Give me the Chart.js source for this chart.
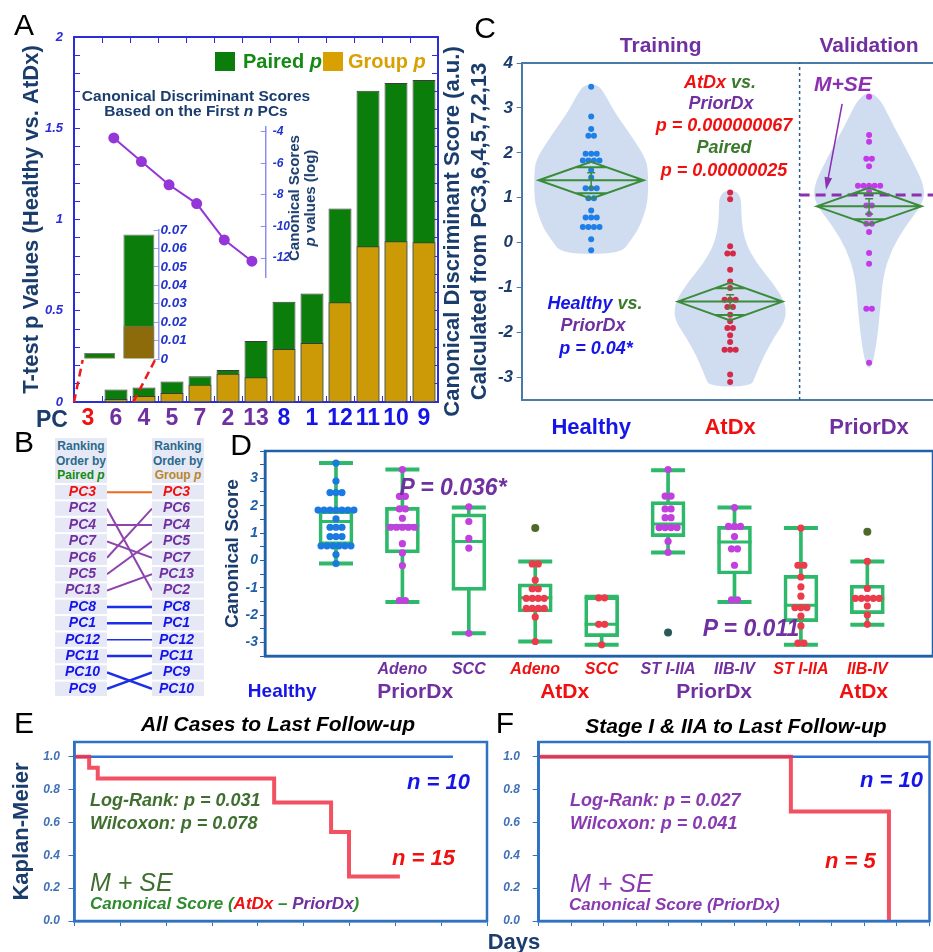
<!DOCTYPE html>
<html lang="en">
<head>
<meta charset="UTF-8">
<title>Canonical discriminant scores of PCs</title>
<script src="https://cdn.jsdelivr.net/npm/chart.js"></script>
<style>
  body { margin: 0; background: #fff; }
  #page { position: relative; width: 933px; height: 952px; overflow: hidden; font-family: "Liberation Sans", Arial, sans-serif; }
  canvas { position: absolute; }
  .c { position: absolute; transform: translate(-50%, -50%); white-space: nowrap; font-weight: bold; line-height: 1; }
  .l { position: absolute; transform: translateY(-50%); white-space: nowrap; font-weight: bold; line-height: 1; }
  .it { font-style: italic; }
  .letter { font-weight: normal; font-size: 30px; color: #000; }
  .hdr { position: absolute; width: 52px; height: 45px; background: #e6e9f5; text-align: center; font: bold 12px/14.5px "Liberation Sans", Arial, sans-serif; padding-top: 1px; box-sizing: border-box; }
</style>
</head>
<body>
<div id="page">
  <canvas id="chartA" width="445" height="440" style="left:0;top:0"></canvas>
  <canvas id="chartAInsetBar" width="115" height="161" style="left:79.5px;top:214px"></canvas>
  <canvas id="chartAInsetLine" width="220" height="190" style="left:100px;top:107px"></canvas>
  <canvas id="chartB" width="154" height="245" style="left:50px;top:467.5px"></canvas>
  <canvas id="chartC" width="493" height="440" style="left:440px;top:0"></canvas>
  <canvas id="chartD" width="713" height="270" style="left:220px;top:440px"></canvas>
  <canvas id="chartE" width="495" height="226" style="left:0;top:726px"></canvas>
  <canvas id="chartF" width="443" height="230" style="left:490px;top:722px"></canvas>

  <!-- panel letters -->
  <div class="c letter" style="left:24px;top:25px">A</div>
  <div class="c letter" style="left:24px;top:442px">B</div>
  <div class="c letter" style="left:485px;top:28px">C</div>
  <div class="c letter" style="left:241px;top:445px">D</div>
  <div class="c letter" style="left:24px;top:723px">E</div>
  <div class="c letter" style="left:505px;top:723px">F</div>

  <!-- A -->
  <div style="position:absolute;left:215px;top:52px;width:20px;height:19px;background:#0b7d0b"></div>
  <div class="l" style="left:243px;top:61px;font-size:20px;color:#138a13">Paired <span class="it">p</span></div>
  <div style="position:absolute;left:323px;top:52px;width:20px;height:19px;background:#d8a000"></div>
  <div class="l" style="left:348px;top:61px;font-size:20px;color:#d8a000">Group <span class="it">p</span></div>
  <div class="c" style="left:196px;top:96px;font-size:15.5px;color:#1b3d6d">Canonical Discriminant Scores</div>
  <div class="c" style="left:196px;top:111px;font-size:15.5px;color:#1b3d6d">Based on the First <span class="it">n</span> PCs</div>
  <div class="c" style="left:302px;top:198px;transform:translate(-50%,-50%) rotate(-90deg);font-size:15px;line-height:16px;text-align:center;color:#1b3d6d">Canonical Scores<br><span class="it">p</span> values (log)</div>
  <div class="c" style="left:52px;top:419px;font-size:23px;color:#1b3d6d">PC</div>

  <!-- B -->
  <div class="hdr" style="left:55px;top:438px"><span style="color:#2b6a8c">Ranking<br>Order by</span><br><span style="color:#138a13">Paired <span class="it">p</span></span></div>
  <div class="hdr" style="left:152px;top:438px"><span style="color:#2b6a8c">Ranking<br>Order by</span><br><span style="color:#b8862a">Group <span class="it">p</span></span></div>

  <!-- C -->
  <div class="c it" style="left:720px;top:82px;font-size:18px"><span style="color:#f01010">AtDx</span> <span style="color:#3a7a2a">vs.</span></div>
  <div class="c it" style="left:721px;top:103px;font-size:18px;color:#7030a0">PriorDx</div>
  <div class="c it" style="left:724px;top:125px;font-size:18px;color:#f01010">p = 0.000000067</div>
  <div class="c it" style="left:724px;top:147px;font-size:18px;color:#3a7a2a">Paired</div>
  <div class="c it" style="left:724px;top:170px;font-size:18px;color:#f01010">p = 0.00000025</div>
  <div class="c it" style="left:595px;top:303px;font-size:18px"><span style="color:#1515e8">Healthy</span> <span style="color:#3a7a2a">vs.</span></div>
  <div class="c it" style="left:593px;top:325px;font-size:18px;color:#7030a0">PriorDx</div>
  <div class="c it" style="left:596px;top:348px;font-size:18px;color:#1515e8">p = 0.04*</div>
  <div class="c it" style="left:843px;top:83px;font-size:21px;color:#8a30b0">M+SE</div>

  <!-- D -->
  <div class="c it" style="left:453px;top:487px;font-size:23px;color:#7030a0">P = 0.036*</div>
  <div class="c it" style="left:751px;top:628px;font-size:23px;color:#7030a0">P = 0.011</div>

  <!-- E -->
  <div class="c it" style="left:278px;top:723px;font-size:21px;color:#000">All Cases to Last Follow-up</div>
  <div class="l it" style="left:407px;top:782px;font-size:22px;color:#1515e8">n = 10</div>
  <div class="l it" style="left:90px;top:800px;font-size:18px;color:#3f6f2f">Log-Rank: p = 0.031</div>
  <div class="l it" style="left:90px;top:823px;font-size:18px;color:#3f6f2f">Wilcoxon: p = 0.078</div>
  <div class="l it" style="left:392px;top:858px;font-size:22px;color:#f01010">n = 15</div>
  <div class="l it" style="left:90px;top:882px;font-size:25px;font-weight:normal;color:#3f6f2f">M + SE</div>
  <div class="l it" style="left:90px;top:903px;font-size:17px;color:#2e8b2e">Canonical Score (<span style="color:#f01010">AtDx</span> – <span style="color:#7030a0">PriorDx</span>)</div>

  <!-- F -->
  <div class="c it" style="left:736px;top:725px;font-size:21px;color:#000">Stage I &amp; IIA to Last Follow-up</div>
  <div class="l it" style="left:860px;top:780px;font-size:22px;color:#1515e8">n = 10</div>
  <div class="l it" style="left:570px;top:800px;font-size:18px;color:#8a3ab0">Log-Rank: p = 0.027</div>
  <div class="l it" style="left:570px;top:823px;font-size:18px;color:#8a3ab0">Wilcoxon: p = 0.041</div>
  <div class="l it" style="left:825px;top:861px;font-size:22px;color:#f01010">n = 5</div>
  <div class="l it" style="left:570px;top:883px;font-size:25px;font-weight:normal;color:#8a3ab0">M + SE</div>
  <div class="l it" style="left:569px;top:904px;font-size:17px;color:#8a3ab0">Canonical Score (PriorDx)</div>
  <div class="c" style="left:514px;top:942px;font-size:22px;color:#1b3d6d">Days</div>
</div>

<script>
  // ---------- Panel A: t-test p values of each PC ----------
  const pcOrder = ['3', '6', '4', '5', '7', '2', '13', '8', '1', '12', '11', '10', '9'];
  const pairedP = [null, 0.068, 0.080, 0.113, 0.141, 0.175, 0.334, 0.549, 0.595, 1.06, 1.706, 1.748, 1.765];
  const groupP = [null, 0.016, 0.033, 0.049, 0.095, 0.155, 0.135, 0.290, 0.323, 0.546, 0.854, 0.881, 0.876];
  const redPCs = ['3'];
  const purplePCs = ['6', '4', '5', '7', '2', '13'];

  // magnified PC3 bar
  const insetLabels = ['', 'PC3'];
  const insetPaired = [0.0033, 0.0675];
  const insetGroup = [0.0010, 0.0180];

  // canonical score p values (log) using the first n PCs
  const firstNPCs = [2, 3, 4, 5, 6, 7];
  const logPValues = [-4.39, -5.89, -7.36, -8.55, -10.85, -12.2];

  // ---------- Panel B: ranking orders ----------
  const rankByPaired = ['PC3', 'PC2', 'PC4', 'PC7', 'PC6', 'PC5', 'PC13', 'PC8', 'PC1', 'PC12', 'PC11', 'PC10', 'PC9'];
  const rankByGroup = ['PC3', 'PC6', 'PC4', 'PC5', 'PC7', 'PC13', 'PC2', 'PC8', 'PC1', 'PC12', 'PC11', 'PC9', 'PC10'];

  // ---------- Panel C: canonical scores ----------
  const cGroups = ['Healthy', 'AtDx', 'PriorDx'];
  const cCohorts = ['Training', 'Validation'];
  const cCohortTicks = [0.5, 2];
  const cHealthy = [3.47, 2.81, 2.53, 2.38, 2.38, 1.98, 1.98, 1.98, 1.83, 1.83, 1.83, 1.83, 1.62, 1.45, 1.21, 1.21, 1.21,
    0.99, 0.99, 0.72, 0.56, 0.56, 0.56, 0.35, 0.35, 0.35, 0.35, 0.08, -0.17];
  const cAtDx = [1.12, 0.97, -0.08, -0.24, -0.24, -0.6, -0.86, -1.01, -1.27, -1.27, -1.27, -1.43, -1.43, -1.6, -1.75,
    -1.9, -1.9, -2.06, -2.21, -2.38, -2.38, -2.38, -2.93, -3.1];
  const cPriorDx = [3.25, 2.4, 2.25, 1.87, 1.87, 1.7, 1.27, 1.27, 1.27, 1.27, 1.27, 1.13, 0.83, 0.83, 0.64, 0.42, 0.42,
    0.24, -0.23, -0.47, -1.47, -1.47, -2.67];
  const cMeans = [1.39, -1.31, 0.81];
  const cCI = [0.41, 0.42, 0.41];
  const cSE = [0.17, 0.15, 0.17];
  const priorDxMSE = 1.06;
  // violin outlines: score levels and half widths (in group units)
  const healthyDensityY = [3.52, 3.3, 2.9, 2.37, 1.85, 1.48, 1.11, 0.81, 0.36, 0.07, -0.25];
  const healthyDensityW = [0.05, 0.1, 0.17, 0.29, 0.40, 0.41, 0.41, 0.40, 0.35, 0.29, 0.21];
  const atdxDensityY = [1.16, 0.5, 0.0, -0.46, -0.9, -1.35, -1.72, -2.09, -2.53, -2.98, -3.2];
  const atdxDensityW = [0.08, 0.08, 0.11, 0.19, 0.31, 0.40, 0.40, 0.32, 0.24, 0.18, 0.15];
  const priorDensityY = [3.32, 2.58, 1.84, 1.25, 0.88, 0.36, -0.16, -0.75, -1.49, -2.23, -2.78];
  const priorDensityW = [0.06, 0.18, 0.31, 0.40, 0.39, 0.26, 0.16, 0.10, 0.08, 0.055, 0.02];

  // ---------- Panel D: box plots by subtype / stage ----------
  const dSubtypes = ['', 'Adeno', 'SCC', 'Adeno', 'SCC', 'ST I-IIA', 'IIB-IV', 'ST I-IIA', 'IIB-IV'];
  const dGroupLabels = ['Healthy', 'PriorDx', 'AtDx', 'PriorDx', 'AtDx'];
  const dGroupTicks = [-0.28, 1.5, 3.5, 5.5, 7.5];
  const dHealthy = [3.56, 2.9, 2.48, 2.48, 2.48, 1.84, 1.84, 1.84, 1.84, 1.84, 1.84, 1.84, 1.52, 1.21, 1.21, 1.21,
    0.87, 0.87, 0.87, 0.53, 0.53, 0.53, 0.53, 0.53, 0.53, 0.21, -0.12];
  const dPriorAdeno = [3.32, 2.34, 2.34, 1.88, 1.88, 1.54, 1.21, 1.21, 1.21, 1.21, 1.21, 0.61, 0.27, -0.19, -1.47, -1.47];
  const dPriorSCC = [1.96, 1.42, 0.8, 0.45, -2.67];
  const dAtdxAdeno = [-0.13, -0.13, -0.72, -1.04, -1.04, -1.39, -1.39, -1.39, -1.39, -1.76, -1.76, -1.76, -1.76, -2.07, -2.97];
  const dAtdxSCC = [-1.37, -1.37, -2.34, -2.34, -3.09];
  const dPriorEarly = [3.32, 2.35, 2.35, 1.88, 1.88, 1.56, 1.56, 1.2, 1.2, 1.2, 1.2, 0.69, 0.29];
  const dPriorLate = [1.93, 1.24, 1.24, 1.24, 0.87, 0.42, 0.42, -0.18, -1.45, -1.45];
  const dAtdxEarly = [1.18, -0.18, -0.18, -0.61, -0.97, -1.31, -1.73, -1.73, -1.73, -2.04, -2.4, -3.03, -3.03];
  const dAtdxLate = [-0.04, -1.03, -1.39, -1.39, -1.39, -1.39, -1.39, -1.67, -2.0, -2.34];
  const dOutlierX = [3, 5, 8];
  const dOutlierY = [1.18, -2.64, 1.05];
  const dLow = [-0.12, -1.52, -2.67, -2.97, -3.09, 0.29, -1.52, -3.09, -2.36];
  const dQ1 = [0.57, 0.27, -1.10, -1.89, -2.79, 0.87, -0.50, -2.24, -1.95];
  const dMedian = [1.42, 1.27, 0.69, -1.37, -2.34, 1.33, 0.67, -1.64, -1.39];
  const dQ3 = [1.82, 1.94, 1.70, -0.86, -1.33, 2.15, 1.24, -0.55, -0.91];
  const dHigh = [3.56, 3.32, 1.93, -0.04, -1.33, 3.30, 1.93, 1.18, -0.04];

  // ---------- Panels E, F: Kaplan-Meier ----------
  const kmAllDays = [0, 80, 127, 1091, 1402, 1500, 1778];
  const kmAllSurv = [1, 0.933, 0.867, 0.722, 0.542, 0.271, 0.271];
  const kmAllRefDays = [0, 2068];
  const kmAllRefSurv = [1, 1];
  const kmEarlyDays = [0, 1908, 2650];
  const kmEarlySurv = [1, 0.667, 0];
  const kmEarlyRefDays = [0, 2957];
  const kmEarlyRefSurv = [1, 1];

  // ---------- colours ----------
  const NAVY = '#1b3d6d';
  const RED = '#f01010';
  const PURPLE = '#7030a0';
  const BLUE = '#1515e8';
  const GREEN = '#0b7d0b';
  const GOLD = '#cc9a06';
  const AXIS_A = '#2c2cd8';
  const BOX_GREEN = '#2db86a';
  const FRAME_D = '#2060a8';
  const FRAME_KM = '#2f72c4';

  Chart.defaults.font.family = '"Liberation Sans", Arial, sans-serif';
  Chart.defaults.animation = false;
  Chart.defaults.layout.autoPadding = false;
  Chart.defaults.plugins.legend.display = false;
  Chart.defaults.plugins.tooltip.enabled = false;

  function pcColor(pc) {
    const n = String(pc).replace('PC', '');
    if (redPCs.includes(n)) return RED;
    return purplePCs.includes(n) ? PURPLE : BLUE;
  }

  // spread equal values side by side
  function swarm(values, center, step) {
    const counts = {};
    const seen = {};
    values.forEach(v => { counts[v] = (counts[v] || 0) + 1; });
    return values.map(v => {
      seen[v] = (seen[v] || 0) + 1;
      return { x: center + (seen[v] - 1 - (counts[v] - 1) / 2) * step, y: v };
    });
  }

  const framePlugin = {
    id: 'frame',
    afterDatasetsDraw(chart, args, opts) {
      const { ctx, chartArea: a } = chart;
      ctx.save();
      ctx.strokeStyle = opts.color;
      ctx.lineWidth = opts.width;
      ctx.strokeRect(a.left, a.top, a.right - a.left, a.bottom - a.top);
      ctx.restore();
    }
  };

  // dashed guides from the PC3 slot up to the magnified bar
  const zoomGuides = {
    id: 'zoomGuides',
    afterDatasetsDraw(chart, args, opts) {
      const { ctx, scales: { x, y } } = chart;
      const slot = (x.right - x.left) / x.ticks.length;
      ctx.save();
      ctx.strokeStyle = '#f01818';
      ctx.lineWidth = 2.5;
      ctx.setLineDash([8, 5]);
      opts.lines.forEach(([s0, v0, s1, v1]) => {
        ctx.beginPath();
        ctx.moveTo(x.left + s0 * slot, y.getPixelForValue(v0));
        ctx.lineTo(x.left + s1 * slot, y.getPixelForValue(v1));
        ctx.stroke();
      });
      ctx.restore();
    }
  };

  // ---------- A: main bars ----------
  new Chart(document.getElementById('chartA'), {
    type: 'bar',
    data: {
      labels: pcOrder,
      datasets: [
        { label: 'Paired p', data: pairedP, backgroundColor: GREEN, borderColor: '#3b3b3b', borderWidth: 1,
          grouped: false, order: 2, barPercentage: 0.82, categoryPercentage: 1 },
        { label: 'Group p', data: groupP, backgroundColor: GOLD, borderColor: '#3b3b3b', borderWidth: 1,
          grouped: false, order: 1, barPercentage: 0.82, categoryPercentage: 1 }
      ]
    },
    options: {
      responsive: false,
      layout: { padding: { top: 37 } },
      scales: {
        x: {
          grid: { offset: true, drawOnChartArea: false, tickLength: -6, color: AXIS_A },
          border: { color: AXIS_A, width: 2 },
          ticks: { autoSkip: false, maxRotation: 0, padding: 9, color: ctx => pcColor(pcOrder[ctx.index]),
            font: { size: 23, weight: 'bold' } },
          afterFit: s => { s.height = 38; }
        },
        xTop: {
          type: 'category', position: 'top', offset: true,
          grid: { offset: true, drawOnChartArea: false, tickLength: -6, color: AXIS_A },
          border: { color: AXIS_A, width: 2 },
          ticks: { display: false },
          afterFit: s => { s.height = 0; }
        },
        y: {
          min: 0, max: 2,
          grid: { drawOnChartArea: false, tickLength: -6, color: AXIS_A },
          border: { color: AXIS_A, width: 2 },
          ticks: { stepSize: 0.1, autoSkip: false, padding: 17, color: AXIS_A,
            font: { size: 13, weight: 'bold', style: 'italic' },
            callback: v => (Math.round(v * 10) % 5 === 0 ? String(Math.round(v * 10) / 10) : '') },
          title: { display: true, text: 'T-test p Values (Healthy vs. AtDx)', color: NAVY,
            font: { size: 22, weight: 'bold' }, padding: { top: 19, bottom: 0 } },
          afterFit: s => { s.width = 74; }
        },
        yR: {
          position: 'right', min: 0, max: 2,
          grid: { drawOnChartArea: false, tickLength: -6, color: AXIS_A },
          border: { color: AXIS_A, width: 2 },
          ticks: { stepSize: 0.1, display: false },
          afterFit: s => { s.width = 7; }
        }
      },
      plugins: { zoomGuides: { lines: [[0, 0, 0.31, 0.23], [2.12, 0, 2.95, 0.247]] } }
    },
    plugins: [zoomGuides]
  });

  // ---------- A: magnified PC3 ----------
  new Chart(document.getElementById('chartAInsetBar'), {
    type: 'bar',
    data: {
      labels: insetLabels,
      datasets: [
        { data: insetPaired, backgroundColor: GREEN, borderColor: '#7a7a7a', borderWidth: 1, grouped: false,
          order: 2, barPercentage: 0.79, categoryPercentage: 1 },
        { data: insetGroup, backgroundColor: '#8d6b0b', borderColor: '#7a7a7a', borderWidth: 1, grouped: false,
          order: 1, barPercentage: 0.79, categoryPercentage: 1 }
      ]
    },
    options: {
      responsive: false,
      layout: { padding: { top: 16, bottom: 16 } },
      scales: {
        x: { display: false },
        y: {
          position: 'right', min: 0, max: 0.07,
          grid: { drawOnChartArea: false, tickLength: -5, color: '#9aa0ea' },
          border: { color: '#9aa0ea', width: 1.5 },
          ticks: { stepSize: 0.01, autoSkip: false, padding: 7, color: '#2233cc',
            font: { size: 13.5, weight: 'bold', style: 'italic' },
            callback: v => (v === 0 ? '0' : v.toFixed(2)) },
          afterFit: s => { s.width = 36.5; }
        }
      }
    }
  });

  // ---------- A: p values of canonical scores ----------
  new Chart(document.getElementById('chartAInsetLine'), {
    type: 'line',
    data: {
      datasets: [{
        data: firstNPCs.map((n, i) => ({ x: n, y: logPValues[i] })),
        borderColor: '#9436d8', backgroundColor: '#9436d8', borderWidth: 2, pointRadius: 4.5
      }]
    },
    options: {
      responsive: false,
      layout: { padding: { top: 20, bottom: 20 } },
      scales: {
        x: { type: 'linear', display: false, min: 1.5, max: 7.5 },
        y: {
          position: 'right', min: -13.2, max: -3.7,
          grid: { drawOnChartArea: false, tickLength: -5, color: '#8f8fe8' },
          border: { color: '#8f8fe8', width: 1.5 },
          ticks: { stepSize: 2, includeBounds: false, padding: 12, color: '#2233cc',
            font: { size: 12, weight: 'bold', style: 'italic' } },
          afterFit: s => { s.width = 54.3; }
        }
      }
    }
  });

  // ---------- B: ranking slope chart ----------
  const cellPlugin = {
    id: 'cells',
    beforeDraw(chart, args, opts) {
      const ctx = chart.ctx;
      ctx.save();
      ctx.fillStyle = opts.color;
      ['yL', 'yR'].forEach(id => {
        const s = chart.scales[id];
        const h = Math.abs(s.getPixelForValue(1) - s.getPixelForValue(0));
        s.ticks.forEach(t => {
          const py = s.getPixelForValue(t.value);
          ctx.fillRect(s.left, py - h / 2 + 1, s.width, h - 2);
        });
      });
      ctx.restore();
    }
  };
  const lineColorB = pc => (pc === 'PC3' ? '#ec6a1c' : purplePCs.includes(pc.replace('PC', '')) ? '#8e44ad' : '#1c2fe6');
  const rankAxis = (order, position) => ({
    position, reverse: true, min: -0.5, max: 12.5,
    afterBuildTicks: s => { s.ticks = order.map((pc, i) => ({ value: i })); },
    grid: { display: false, drawTicks: false }, border: { display: false },
    ticks: { autoSkip: false, crossAlign: 'center', padding: 7,
      callback: (v, i) => order[i], color: ctx => pcColor(order[ctx.index]),
      font: { size: 14, weight: 'bold', style: 'italic' } },
    afterFit: s => { s.width = 52; }
  });
  new Chart(document.getElementById('chartB'), {
    type: 'line',
    data: {
      datasets: rankByPaired.map(pc => ({
        data: [{ x: 0, y: rankByPaired.indexOf(pc) }, { x: 1, y: rankByGroup.indexOf(pc) }],
        yAxisID: 'yL',
        borderColor: lineColorB(pc),
        borderWidth: pc === 'PC12' ? 1.5 : (pc === 'PC3' || purplePCs.includes(pc.replace('PC', '')) ? 2 : 2.5),
        pointRadius: 0
      }))
    },
    options: {
      responsive: false,
      layout: { padding: { left: 5, top: 16, bottom: 16 } },
      scales: {
        x: { type: 'linear', display: false, min: 0, max: 1 },
        yL: rankAxis(rankByPaired, 'left'),
        yR: rankAxis(rankByGroup, 'right')
      },
      plugins: { cells: { color: '#e6e9f5' } }
    },
    plugins: [cellPlugin]
  });

  // ---------- C: violins with means diamonds ----------
  const violinShapes = [
    { levels: healthyDensityY, widths: healthyDensityW },
    { levels: atdxDensityY, widths: atdxDensityW },
    { levels: priorDensityY, widths: priorDensityW }
  ];
  const violinPlugin = {
    id: 'violins',
    beforeDatasetsDraw(chart, args, opts) {
      const { ctx, scales: { x, y } } = chart;
      const mid = (a, b) => [(a[0] + b[0]) / 2, (a[1] + b[1]) / 2];
      ctx.save();
      ctx.fillStyle = opts.color;
      violinShapes.forEach((shape, i) => {
        const pts = shape.levels.map((v, k) => [x.getPixelForValue(i + shape.widths[k]), y.getPixelForValue(v)]);
        for (let k = shape.levels.length - 1; k >= 0; k--) {
          pts.push([x.getPixelForValue(i - shape.widths[k]), y.getPixelForValue(shape.levels[k])]);
        }
        const start = mid(pts[pts.length - 1], pts[0]);
        ctx.beginPath();
        ctx.moveTo(start[0], start[1]);
        pts.forEach((p, k) => {
          const m = mid(p, pts[(k + 1) % pts.length]);
          ctx.quadraticCurveTo(p[0], p[1], m[0], m[1]);
        });
        ctx.closePath();
        ctx.fill();
      });
      ctx.restore();
    }
  };
  const diamondPlugin = {
    id: 'diamonds',
    afterDatasetsDraw(chart, args, opts) {
      const { ctx, scales: { x, y } } = chart;
      const h = opts.halfWidth;
      const px = v => x.getPixelForValue(v);
      const py = v => y.getPixelForValue(v);
      const k = 1 - Math.SQRT1_2;
      ctx.save();
      ctx.strokeStyle = opts.color;
      cMeans.forEach((m, i) => {
        const c = cCI[i];
        const s = cSE[i];
        ctx.lineWidth = 2;
        ctx.beginPath();
        ctx.moveTo(px(i - h), py(m));
        ctx.lineTo(px(i), py(m + c));
        ctx.lineTo(px(i + h), py(m));
        ctx.lineTo(px(i), py(m - c));
        ctx.closePath();
        ctx.moveTo(px(i - h), py(m));
        ctx.lineTo(px(i + h), py(m));
        [m + c * Math.SQRT1_2, m - c * Math.SQRT1_2].forEach(v => {
          ctx.moveTo(px(i - h * k), py(v));
          ctx.lineTo(px(i + h * k), py(v));
        });
        ctx.stroke();
        ctx.lineWidth = 1.5;
        ctx.beginPath();
        ctx.moveTo(px(i), py(m + s));
        ctx.lineTo(px(i), py(m - s));
        ctx.moveTo(px(i) - 4, py(m + s));
        ctx.lineTo(px(i) + 4, py(m + s));
        ctx.moveTo(px(i) - 4, py(m - s));
        ctx.lineTo(px(i) + 4, py(m - s));
        ctx.stroke();
      });
      // arrow from the M+SE label to the dashed line
      const [f, t] = [opts.arrow.from, opts.arrow.to];
      const x0 = px(f[0]), y0 = py(f[1]), x1 = px(t[0]), y1 = py(t[1]);
      const ang = Math.atan2(y1 - y0, x1 - x0);
      ctx.strokeStyle = ctx.fillStyle = '#8a30b0';
      ctx.lineWidth = 1.5;
      ctx.beginPath();
      ctx.moveTo(x0, y0);
      ctx.lineTo(x1 - 8 * Math.cos(ang), y1 - 8 * Math.sin(ang));
      ctx.stroke();
      ctx.beginPath();
      ctx.moveTo(x1, y1);
      ctx.lineTo(x1 - 13 * Math.cos(ang - 0.3), y1 - 13 * Math.sin(ang - 0.3));
      ctx.lineTo(x1 - 13 * Math.cos(ang + 0.3), y1 - 13 * Math.sin(ang + 0.3));
      ctx.closePath();
      ctx.fill();
      ctx.restore();
    }
  };
  const cGroupColors = [BLUE, RED, PURPLE];
  const FRAME_C = '#4a7aa8';
  new Chart(document.getElementById('chartC'), {
    type: 'scatter',
    data: {
      datasets: [
        { data: swarm(cHealthy, 0, 0.04), pointBackgroundColor: '#1f7fe6', pointRadius: 3, pointBorderWidth: 0, order: 1 },
        { data: swarm(cAtDx, 1, 0.04), pointBackgroundColor: '#d42a4a', pointRadius: 3, pointBorderWidth: 0, order: 1 },
        { data: swarm(cPriorDx, 2, 0.04), pointBackgroundColor: '#c43ae8', pointRadius: 3, pointBorderWidth: 0, order: 1 },
        { type: 'line', data: [{ x: 1.5, y: -3.5 }, { x: 1.5, y: 4 }], borderColor: '#2a5a88', borderWidth: 1.5,
          borderDash: [3, 3], pointRadius: 0, order: 2 },
        { type: 'line', data: [{ x: 1.5, y: priorDxMSE }, { x: 2.46, y: priorDxMSE }], borderColor: '#8a30b0',
          borderWidth: 3, borderDash: [10, 6], pointRadius: 0, order: 0 }
      ]
    },
    options: {
      responsive: false,
      scales: {
        x: {
          type: 'linear', min: -0.5, max: 2.46,
          afterBuildTicks: s => { s.ticks = cGroups.map((g, i) => ({ value: i })); },
          grid: { display: false, drawTicks: false },
          border: { color: FRAME_C, width: 2 },
          ticks: { autoSkip: false, maxRotation: 0, padding: 14.8, callback: (v, i) => cGroups[i],
            color: ctx => cGroupColors[ctx.index], font: { size: 22, weight: 'bold' } },
          afterFit: s => { s.height = 40; }
        },
        xTop: {
          type: 'linear', position: 'top', min: -0.5, max: 2.46,
          afterBuildTicks: s => { s.ticks = cCohortTicks.map(v => ({ value: v })); },
          grid: { display: false, drawTicks: false },
          border: { color: FRAME_C, width: 2 },
          ticks: { autoSkip: false, maxRotation: 0, padding: 3.7, callback: (v, i) => cCohorts[i],
            color: PURPLE, font: { size: 21, weight: 'bold' } },
          afterFit: s => { s.height = 63; }
        },
        y: {
          min: -3.5, max: 4,
          grid: { drawOnChartArea: false, tickLength: 5, color: FRAME_C },
          border: { color: FRAME_C, width: 2 },
          ticks: { stepSize: 1, includeBounds: false, padding: 3.7, color: NAVY,
            font: { size: 17, weight: 'bold', style: 'italic' } },
          title: { display: true, text: ['Canonical Discriminant Score (a.u.)', 'Calculated from PC3,6,4,5,7,2,13'],
            color: NAVY, font: { size: 22, weight: 'bold' }, padding: { top: 0, bottom: 0 } },
          afterFit: s => { s.width = 81.7; }
        }
      },
      plugins: {
        violins: { color: 'rgba(190, 208, 235, 0.72)' },
        diamonds: { color: '#3a8c3a', halfWidth: 0.378, arrow: { from: [1.806, 3.09], to: [1.69, 1.18] } }
      }
    },
    plugins: [violinPlugin, diamondPlugin]
  });

  // ---------- D: box plots ----------
  const dGroups = [dHealthy, dPriorAdeno, dPriorSCC, dAtdxAdeno, dAtdxSCC, dPriorEarly, dPriorLate, dAtdxEarly, dAtdxLate];
  const dDotColors = ['#1a7ae0', '#c23fe0', '#c23fe0', '#ec3b4b', '#ec3b4b', '#c23fe0', '#c23fe0', '#ec3b4b', '#ec3b4b'];
  const dSubtypeColors = [BLUE, PURPLE, PURPLE, RED, RED, PURPLE, PURPLE, RED, RED];
  const dGroupColors = [BLUE, PURPLE, RED, PURPLE, RED];
  new Chart(document.getElementById('chartD'), {
    type: 'scatter',
    data: {
      datasets: [
        ...dGroups.map((vals, i) => ({
          data: swarm(vals, i, 0.09), pointBackgroundColor: dDotColors[i], pointRadius: 3.6, pointBorderWidth: 0, order: 0
        })),
        { data: dOutlierX.map((x, i) => ({ x, y: dOutlierY[i] })), pointBackgroundColor: ['#4d6a2a', '#2a5a5a', '#4d6a2a'],
          pointRadius: 4, pointBorderWidth: 0, order: 0 },
        { data: dLow.map((v, i) => ({ x: i, y: v })).concat(dHigh.map((v, i) => ({ x: i, y: v }))),
          pointStyle: 'line', pointRadius: 17, pointBorderWidth: 4, pointBorderColor: BOX_GREEN, order: 1 },
        { data: dMedian.map((v, i) => ({ x: i, y: v })),
          pointStyle: 'line', pointRadius: 17, pointBorderWidth: 3, pointBorderColor: BOX_GREEN, order: 1 },
        { type: 'bar', data: dQ1.map((v, i) => ({ x: i, y: [v, dQ3[i]] })), backgroundColor: 'rgba(0,0,0,0)',
          borderColor: BOX_GREEN, borderWidth: 3, borderSkipped: false, barThickness: 34, grouped: false, order: 2 },
        { type: 'bar', data: dLow.map((v, i) => ({ x: i, y: [v, dQ1[i]] })), backgroundColor: BOX_GREEN,
          borderWidth: 0, barThickness: 3, grouped: false, order: 3 },
        { type: 'bar', data: dHigh.map((v, i) => ({ x: i, y: [dQ3[i], v] })), backgroundColor: BOX_GREEN,
          borderWidth: 0, barThickness: 3, grouped: false, order: 3 }
      ]
    },
    options: {
      responsive: false,
      layout: { padding: { top: 11 } },
      scales: {
        x: {
          type: 'linear', min: -0.51, max: 8.43,
          afterBuildTicks: s => { s.ticks = dSubtypes.map((d, i) => ({ value: i })); },
          grid: { display: false, drawTicks: false },
          border: { color: FRAME_D, width: 2.5 },
          ticks: { autoSkip: false, maxRotation: 0, padding: 4, callback: (v, i) => dSubtypes[i],
            color: ctx => dSubtypeColors[ctx.index], font: { size: 16, weight: 'bold', style: 'italic' } },
          afterFit: s => { s.height = 24; }
        },
        x2: {
          type: 'linear', position: 'bottom', weight: 1, min: -0.51, max: 8.43,
          afterBuildTicks: s => { s.ticks = dGroupTicks.map(v => ({ value: v })); },
          grid: { display: false, drawTicks: false },
          border: { display: false },
          ticks: { autoSkip: false, maxRotation: 0, padding: 0, callback: (v, i) => dGroupLabels[i],
            color: ctx => dGroupColors[ctx.index],
            font: ctx => ({ size: ctx.index === 0 ? 19 : 21, weight: 'bold' }) },
          afterFit: s => { s.height = 30; }
        },
        y: {
          min: -3.5, max: 4,
          grid: { drawOnChartArea: false, tickLength: 5, color: FRAME_D },
          border: { color: FRAME_D, width: 2.5 },
          ticks: { stepSize: 0.5, includeBounds: false, autoSkip: false, padding: 2, color: '#1f5fa8',
            font: { size: 14, weight: 'bold', style: 'italic' },
            callback: v => (Number.isInteger(v) && Math.abs(v) <= 3 ? String(v) : '') },
          title: { display: true, text: 'Canonical Score', color: NAVY, font: { size: 19, weight: 'bold' },
            padding: { top: 1.6, bottom: 0 } },
          afterFit: s => { s.width = 45; }
        }
      },
      plugins: { frame: { color: FRAME_D, width: 2.5 } }
    },
    plugins: [framePlugin]
  });

  // ---------- E, F: Kaplan-Meier curves ----------
  function kmChart(id, opts) {
    return new Chart(document.getElementById(id), {
      type: 'scatter',
      data: {
        datasets: [
          { data: opts.days.map((d, i) => ({ x: d, y: opts.surv[i] })), showLine: true, stepped: 'before',
            borderColor: 'rgba(240, 50, 70, 0.85)', borderWidth: 4, pointRadius: 0 },
          { data: opts.refDays.map((d, i) => ({ x: d, y: opts.refSurv[i] })), showLine: true,
            borderColor: '#2d6fd2', borderWidth: 2.5, pointRadius: 0 }
        ]
      },
      options: {
        responsive: false,
        layout: { padding: { top: opts.padTop, right: opts.padRight } },
        scales: {
          x: {
            min: 0, max: opts.maxDays,
            grid: { drawOnChartArea: false, tickLength: 5, color: FRAME_KM },
            border: { color: FRAME_KM, width: 2.5 },
            ticks: { stepSize: 250, includeBounds: false, autoSkip: false, maxRotation: 0, padding: 3.5,
              color: '#3f70b8', font: { size: 12, weight: 'bold', style: 'italic' },
              callback: v => (v > 0 && v % 500 === 0 ? String(v) : '') },
            afterFit: s => { s.height = 31; }
          },
          y: {
            min: 0, max: 1.09,
            grid: { drawOnChartArea: false, tickLength: 6, color: FRAME_KM },
            border: { color: FRAME_KM, width: 2.5 },
            ticks: { stepSize: 0.2, includeBounds: false, autoSkip: false, padding: opts.yPad,
              color: '#3f70b8', font: { size: 12, weight: 'bold', style: 'italic' },
              callback: v => v.toFixed(1) },
            title: { display: opts.yTitle, text: 'Kaplan-Meier', color: NAVY, font: { size: 22, weight: 'bold' },
              padding: { top: 8.8, bottom: 0 } },
            afterFit: s => { s.width = opts.yWidth; }
          }
        },
        plugins: { frame: { color: FRAME_KM, width: 2.5 } }
      },
      plugins: [framePlugin]
    });
  }

  kmChart('chartE', { days: kmAllDays, surv: kmAllSurv, refDays: kmAllRefDays, refSurv: kmAllRefSurv,
    maxDays: 2254, padTop: 16, padRight: 8, yWidth: 74.5, yPad: 8.5, yTitle: true });
  kmChart('chartF', { days: kmEarlyDays, surv: kmEarlySurv, refDays: kmEarlyRefDays, refSurv: kmEarlyRefSurv,
    maxDays: 2957, padTop: 20, padRight: 0, yWidth: 48.7, yPad: 12.7, yTitle: false });
</script>
</body>
</html>
